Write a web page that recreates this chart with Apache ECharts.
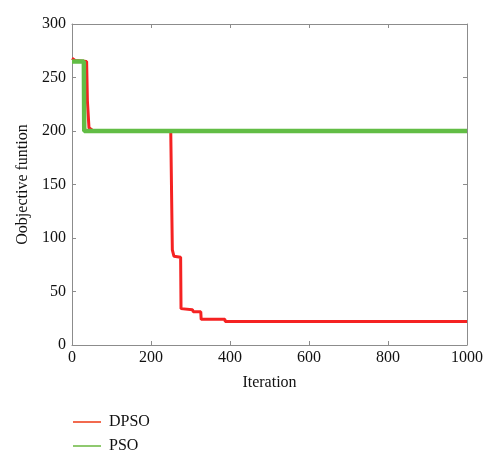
<!DOCTYPE html>
<html>
<head>
<meta charset="utf-8">
<script src="https://cdn.jsdelivr.net/npm/echarts@6/dist/echarts.min.js"></script>
<style>
  html, body { margin: 0; padding: 0; background: #fff; }
  #chart { width: 500px; height: 463px; }
</style>
</head>
<body>
<div id="chart"></div>
<script>
// 数据：迭代次数与目标函数值
var dpsoIter = [0, 8, 10, 37, 39, 43, 54, 250, 254, 258, 275, 276, 305, 307, 326, 327, 387, 388, 1000];
var dpsoVal = [268, 266, 265, 265, 228, 203, 200, 200, 89, 83, 82, 34, 33, 31, 31, 24, 24, 22, 22];
var psoIter = [0, 30, 31, 1000];
var psoVal = [265, 265, 200, 200];

(function() {
  var myChart = echarts.init(document.getElementById("chart"));

  function pairs(xs, ys) {
    return xs.map(function(x, i) { return [x, ys[i]]; });
  }

  var font = "Liberation Serif";
  var axisGray = "#8c8c8c";

  var option = {
    animation: false,
    textStyle: { fontFamily: font },
    grid: {
      left: 72,
      right: 33,
      top: 24,
      bottom: 118
    },
    legend: {
      orient: "vertical",
      left: 68,
      top: 409,
      itemWidth: 28,
      itemHeight: 2,
      itemGap: 8,
      icon: "rect",
      textStyle: { fontFamily: font, fontSize: 16, color: "#111", padding: [0, 0, 0, 3] },
      data: [
        { name: "DPSO", itemStyle: { color: "#f26a4f" } },
        { name: "PSO", itemStyle: { color: "#8fc96f" } }
      ]
    },
    xAxis: [
      {
        type: "value",
        min: 0,
        max: 1000,
        interval: 200,
        name: "Iteration",
        nameLocation: "middle",
        nameGap: 30,
        nameTextStyle: { fontFamily: font, fontSize: 16, color: "#111" },
        axisLine: { lineStyle: { color: axisGray } },
        axisTick: { inside: true, length: 4, lineStyle: { color: axisGray } },
        axisLabel: {
          fontFamily: font, fontSize: 16, color: "#111", margin: 5,
          formatter: function(v) { return String(v); }
        },
        splitLine: { show: false }
      },
      {
        type: "value",
        position: "top",
        min: 0,
        max: 1000,
        interval: 200,
        axisLine: { show: true, onZero: false, lineStyle: { color: axisGray } },
        axisTick: { show: true, inside: true, length: 4, lineStyle: { color: axisGray } },
        axisLabel: { show: false },
        splitLine: { show: false }
      }
    ],
    yAxis: [
      {
        type: "value",
        min: 0,
        max: 300,
        interval: 50,
        name: "Oobjective funtion",
        nameLocation: "middle",
        nameGap: 35,
        nameTextStyle: { fontFamily: font, fontSize: 16, color: "#111" },
        axisLine: { show: true, lineStyle: { color: axisGray } },
        axisTick: { show: true, inside: true, length: 4, lineStyle: { color: axisGray } },
        axisLabel: { fontFamily: font, fontSize: 16, color: "#111", margin: 6 },
        splitLine: { show: false }
      },
      {
        type: "value",
        position: "right",
        min: 0,
        max: 300,
        interval: 50,
        axisLine: { show: true, onZero: false, lineStyle: { color: axisGray } },
        axisTick: { show: true, inside: true, length: 4, lineStyle: { color: axisGray } },
        axisLabel: { show: false },
        splitLine: { show: false }
      }
    ],
    series: [
      {
        name: "DPSO",
        type: "line",
        showSymbol: false,
        color: "#f52222",
        lineStyle: { width: 3, color: "#f52222" },
        data: pairs(dpsoIter, dpsoVal),
        z: 2
      },
      {
        name: "PSO",
        type: "line",
        showSymbol: false,
        color: "#62bd45",
        lineStyle: { width: 4.5, color: "#62bd45" },
        data: pairs(psoIter, psoVal),
        z: 3
      }
    ]
  };

  myChart.setOption(option);
  window.addEventListener("resize", function() {
    myChart.resize();
  });
})();
</script>
</body>
</html>
